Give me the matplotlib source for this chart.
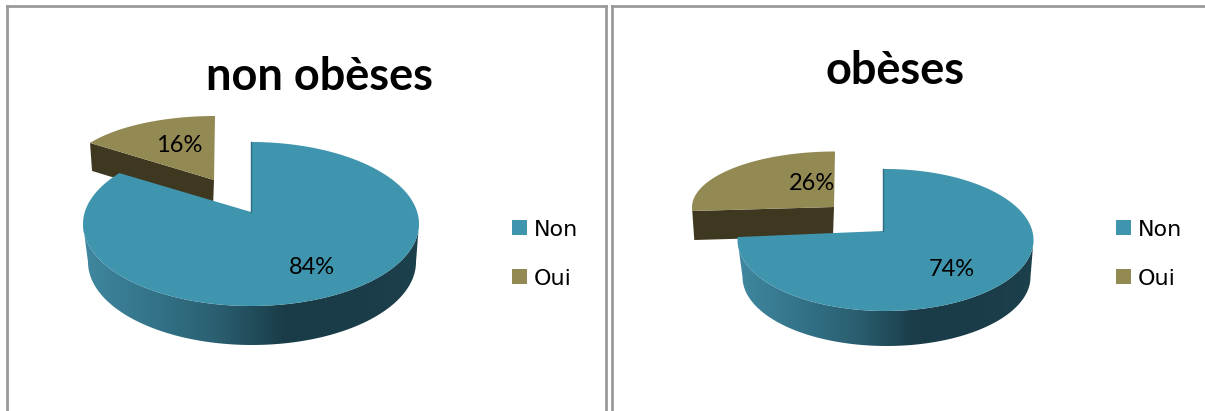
import matplotlib
matplotlib.use('Agg')
import matplotlib.pyplot as plt
import numpy as np
from matplotlib.colors import LinearSegmentedColormap
from matplotlib.patches import Polygon, Rectangle

titles = ['non obèses', 'obèses']
categories = ['Non', 'Oui']
non_obese_shares = [84, 16]
obese_shares = [74, 26]

BLUE = '#4095ae'
BROWN = '#938953'
BROWN_DARK = '#3e3821'
BORDER = '#9a9a9a'
# the cut edge of the blue face looks rotated a bit by the 3D perspective
PERSPECTIVE = 6
wall_cmap = LinearSegmentedColormap.from_list('wall', ['#3f879f', '#34748a', '#2a5f70', '#1a3c48', '#1a3c48', '#1c404c'])


def arc(cx, cy, rx, ry, start, end, n=120):
    t = np.radians(np.linspace(start, end, n))
    return np.column_stack([cx + rx * np.cos(t), cy - ry * np.sin(t)])


def draw_panel(ax, shares, blue, brown, title, title_xy, label_blue, label_brown, legend_x):
    # slices run clockwise from 12 o'clock, Non first
    split = 90 - shares[0] * 3.6
    end_brown = split - shares[1] * 3.6

    # brown slice sits behind the blue one
    top_arc = arc(brown['cx'], brown['cy'], brown['rx'], brown['ry'], split + 360, end_brown + 360)
    left_pt = top_arc[0]
    apex = np.array(brown['apex'])
    side = [left_pt, apex, apex + [-1, brown['depth']], left_pt + [2, brown['depth']]]
    ax.add_patch(Polygon(side, closed=True, fc=BROWN_DARK, ec='none', zorder=2))
    ax.add_patch(Polygon(np.vstack([top_arc, apex]), closed=True, fc=BROWN, ec='none', zorder=3))

    # wall under the blue slice
    upper = arc(blue['cx'], blue['cy'], blue['rx'], blue['ry'], 180, 360)
    lower = arc(blue['cx'] + 1, blue['bcy'], blue['brx'], blue['bry'], 360, 180)
    wall = Polygon(np.vstack([upper, lower]), closed=True, fc='none', ec='none', transform=ax.transData)
    ax.add_patch(wall)
    x0 = blue['cx'] - blue['rx']
    x1 = blue['cx'] + blue['rx']
    im = ax.imshow(np.linspace(0, 1, 256)[None, :], cmap=wall_cmap, aspect='auto', zorder=4,
                   extent=[x0, x1, blue['bcy'] + blue['bry'], blue['cy']])
    im.set_clip_path(wall)

    # blue top face
    top = arc(blue['cx'], blue['cy'], blue['rx'], blue['ry'], 90, split - PERSPECTIVE, n=300)
    top[0][0] = blue['apex'][0]
    ax.add_patch(Polygon(np.vstack([top, blue['apex']]), closed=True, fc=BLUE, ec='none', zorder=5))
    ax.plot([top[0][0], blue['apex'][0]], [top[0][1], blue['apex'][1]], color='#2f6b7e', lw=1, zorder=6)

    ax.text(title_xy[0], title_xy[1], title, fontsize=32.5, fontweight='bold', family='Lato',
            ha='center', va='center', color='black', zorder=7)
    ax.text(label_blue[0], label_blue[1], f'{shares[0]}%', fontsize=17, family='Lato',
            ha='center', va='center', color='black', zorder=7)
    ax.text(label_brown[0], label_brown[1], f'{shares[1]}%', fontsize=17, family='Lato',
            ha='center', va='center', color='black', zorder=7)

    # legend
    for name, color, y in zip(categories, [BLUE, BROWN], [228, 277]):
        ax.add_patch(Rectangle((legend_x, y - 8), 15, 15, fc=color, ec='none', zorder=7))
        ax.text(legend_x + 22, y + 1.5, name, fontsize=16, family='DejaVu Sans', ha='left', va='center',
                color='black', zorder=7)


fig = plt.figure(figsize=(12.05, 4.11), dpi=100)
ax = fig.add_axes([0, 0, 1, 1])
ax.axis('off')

# chart frames
ax.plot([7, 7], [411, 6.5], color=BORDER, lw=2)
ax.plot([7, 606], [6.5, 6.5], color=BORDER, lw=2)
ax.plot([606, 606], [6.5, 411], color=BORDER, lw=2)
ax.plot([611.5, 611.5], [411, 6.5], color=BORDER, lw=2)
ax.plot([611.5, 1205], [6.5, 6.5], color=BORDER, lw=2)

draw_panel(ax, non_obese_shares,
           dict(cx=251, cy=224, rx=168, ry=82, apex=(251, 212), bcy=262, brx=164, bry=83),
           dict(cx=215, cy=174, rx=148, ry=58, apex=(214, 180), depth=28),
           titles[0], (319, 77), (312, 267.5), (179, 145.5), 512)
draw_panel(ax, obese_shares,
           dict(cx=885.5, cy=240, rx=148, ry=71, apex=(883, 231), bcy=277, brx=144, bry=69),
           dict(cx=835, cy=207.5, rx=143, ry=56, apex=(834, 207), depth=29),
           titles[1], (895, 71.5), (952, 269.5), (812, 183.5), 1116)

ax.set_xlim(0, 1205)
ax.set_ylim(411, 0)

fig.savefig('out.png', dpi=100, facecolor='white')
plt.close()
